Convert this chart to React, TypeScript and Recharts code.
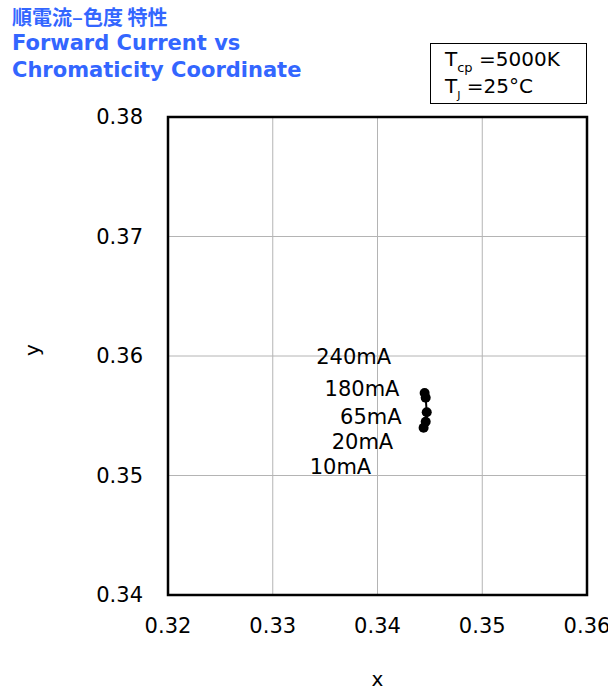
import React from "react";
import {
  ScatterChart,
  Scatter,
  XAxis,
  YAxis,
  CartesianGrid,
  ReferenceArea,
} from "recharts";

// measured chromaticity per forward current
const currents = ["10mA", "20mA", "65mA", "180mA", "240mA"];
const cieX = [0.3444, 0.3446, 0.3447, 0.3446, 0.3445];
const cieY = [0.354, 0.3545, 0.3553, 0.3565, 0.3569];

// where the current labels sit (right edge, vertical centre)
const labelX = [0.3394, 0.3415, 0.3423, 0.3421, 0.3413];
const labelY = [0.3507, 0.3528, 0.3549, 0.3572, 0.3599];

const xTicks = [0.32, 0.33, 0.34, 0.35, 0.36];
const yTicks = [0.34, 0.35, 0.36, 0.37, 0.38];

const FONT = "'DejaVu Sans', Verdana, sans-serif";
const BLUE = "#3366FF";

const points = currents.map((c, i) => ({ name: c, x: cieX[i], y: cieY[i] }));
const labels = currents.map((c, i) => ({ name: c, x: labelX[i], y: labelY[i] }));

const Dot = (props: any) => {
  const { cx, cy } = props;
  return <circle cx={cx} cy={cy} r={5} fill="#000" />;
};

const LabelText = (props: any) => {
  const { cx, cy, payload } = props;
  return (
    <text
      x={cx}
      y={cy}
      textAnchor="end"
      dominantBaseline="central"
      fontFamily={FONT}
      fontSize={21}
      fill="#000"
    >
      {payload.name}
    </text>
  );
};

const sub: React.CSSProperties = {
  position: "relative",
  top: 6,
  fontSize: 13,
  lineHeight: 0,
  verticalAlign: "baseline",
};

const App: React.FC = () => {
  return (
    <div
      style={{
        position: "absolute",
        left: 0,
        top: 0,
        width: 608,
        height: 690,
        background: "#fff",
        fontFamily: FONT,
      }}
    >
      <div
        style={{
          position: "absolute",
          left: 12,
          top: 3,
          color: BLUE,
          fontWeight: "bold",
          fontSize: 21,
          lineHeight: "27px",
          fontFamily: FONT,
        }}
      >
        <div style={{ fontFamily: "'Noto Sans CJK JP', sans-serif", fontSize: 20 }}>
          順電流‒色度 特性
        </div>
        <div>Forward Current vs</div>
        <div>Chromaticity Coordinate</div>
      </div>

      <div
        style={{
          position: "absolute",
          left: 430,
          top: 43,
          width: 157,
          height: 61,
          border: "1px solid #000",
          fontSize: 20,
          lineHeight: "27px",
          paddingLeft: 14,
          boxSizing: "border-box",
          paddingTop: 2,
        }}
      >
        <div>
          T<span style={sub}>cp</span> =5000K
        </div>
        <div>
          T<span style={{ ...sub, fontSize: 11 }}>J</span> =25°C
        </div>
      </div>

      <ScatterChart
        width={608}
        height={690}
        margin={{ top: 117, right: 21, bottom: 0, left: 0 }}
        style={{ position: "absolute", left: 0, top: 0 }}
      >
        <CartesianGrid stroke="#b4b4b4" strokeWidth={1} />
        <XAxis
          type="number"
          dataKey="x"
          domain={[0.32, 0.36]}
          ticks={xTicks}
          tickFormatter={(v: number) => v.toFixed(2)}
          tickLine={false}
          axisLine={false}
          tickSize={0}
          tickMargin={23}
          tick={{ fill: "#000", fontSize: 21, fontFamily: FONT }}
          height={95}
          label={{
            value: "x",
            position: "insideBottom",
            offset: 4,
            fill: "#000",
            fontSize: 20,
            fontFamily: FONT,
          }}
        />
        <YAxis
          type="number"
          dataKey="y"
          domain={[0.34, 0.38]}
          ticks={yTicks}
          tickFormatter={(v: number) => v.toFixed(2)}
          tickLine={false}
          axisLine={false}
          tickSize={0}
          tickMargin={25}
          tick={{ fill: "#000", fontSize: 21, fontFamily: FONT }}
          width={168}
          label={{
            value: "y",
            angle: -90,
            position: "insideLeft",
            offset: 32,
            fill: "#000",
            fontSize: 20,
            fontFamily: FONT,
          }}
        />
        <ReferenceArea
          x1={0.32}
          x2={0.36}
          y1={0.34}
          y2={0.38}
          fill="none"
          stroke="#000"
          strokeWidth={2.5}
          ifOverflow="visible"
        />
        <Scatter
          data={points}
          line={{ stroke: "#000", strokeWidth: 2 }}
          shape={<Dot />}
          isAnimationActive={false}
        />
        <Scatter data={labels} shape={<LabelText />} isAnimationActive={false} />
      </ScatterChart>
    </div>
  );
};

export default App;
